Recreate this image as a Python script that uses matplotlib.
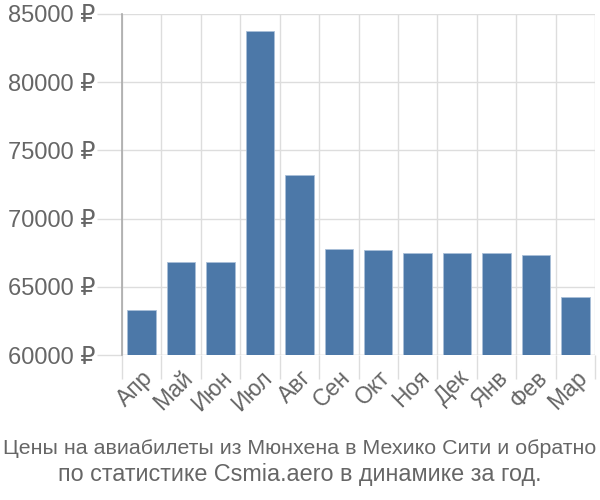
import matplotlib
matplotlib.use("Agg")
import matplotlib.pyplot as plt
import numpy as np

months = ["Апр", "Май", "Июн", "Июл", "Авг", "Сен", "Окт", "Ноя", "Дек", "Янв", "Фев", "Мар"]
prices = [63320, 66820, 66820, 83730, 73200, 67750, 67680, 67480, 67480, 67480, 67310, 64230]
yticks = [60000, 65000, 70000, 75000, 80000, 85000]
title_lines = ["Цены на авиабилеты из Мюнхена в Мехико Сити и обратно",
               "по статистике Csmia.aero в динамике за год."]

plt.rcParams['font.family'] = ['Liberation Sans', 'DejaVu Sans']

fig = plt.figure(figsize=(6, 5), dpi=100)
ax = fig.add_axes([0.203, 0.29, 0.789, 0.682])

x = np.arange(len(months))
ax.bar(x, prices, width=0.72, color="#4c78a8", edgecolor="#a9bfd8", linewidth=0.6, zorder=3)

ax.set_xlim(-0.5, len(months) - 0.5)
ax.set_ylim(60000, 85000)
ax.set_yticks(yticks)
ax.set_yticklabels([f"{v} ₽" for v in yticks], fontsize=17, color="#666666")

# vertical grid at category boundaries
bounds = np.arange(len(months) + 1) - 0.5
ax.set_xticks(bounds, minor=True)
ax.set_xticks(x)
ax.set_xticklabels(months, rotation=45, ha="right", va="top", rotation_mode="anchor",
                   fontsize=16.5, color="#666666")
ax.tick_params(axis="x", which="major", length=0, pad=8)
ax.tick_params(axis="x", which="minor", length=17, color="#dddddd", width=1)
ax.tick_params(axis="y", length=18, color="#dddddd", width=1, pad=1)
ax.grid(True, axis="y", color="#dddddd", linewidth=1, zorder=0)
ax.grid(True, axis="x", which="minor", color="#dddddd", linewidth=1, zorder=0)

for s in ["top", "right", "bottom"]:
    ax.spines[s].set_visible(False)
ax.spines["left"].set_color("#aaaaaa")
ax.spines["left"].set_linewidth(1.2)
ax.axhline(60000, color="#dddddd", linewidth=1, zorder=1)

fig.text(0.5, 1 - 454 / 500, title_lines[0], ha="center", va="baseline", fontsize=15.4,
         color="#666666")
fig.text(0.5, 1 - 481 / 500, title_lines[1], ha="center", va="baseline", fontsize=16.8,
         color="#666666")

fig.savefig("out.png", dpi=100)
